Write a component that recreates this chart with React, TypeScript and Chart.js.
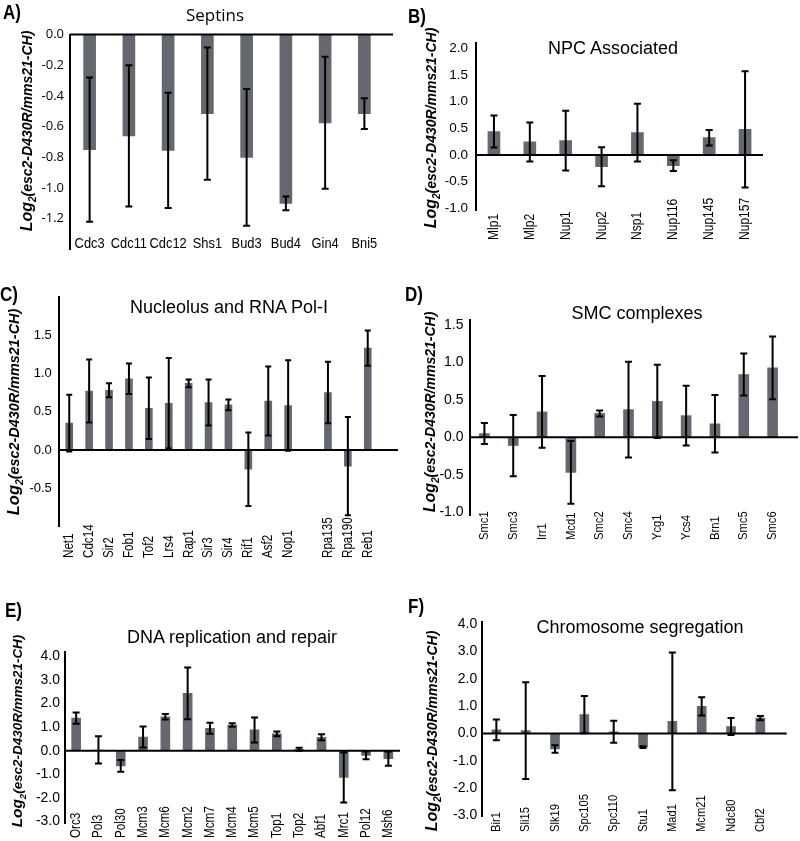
import React, { useEffect, useRef } from 'react';
import { Chart, registerables } from 'chart.js';
Chart.register(...registerables);

const ARIAL = "'Liberation Sans', Arial, sans-serif";
const OPEN = "'Open Sans', 'DejaVu Sans', sans-serif";
const BAR = '#65696f';
const CONDENSE = 0.83;

// A) Septins
const septinLabels = ['Cdc3', 'Cdc11', 'Cdc12', 'Shs1', 'Bud3', 'Bud4', 'Gin4', 'Bni5'];
const septinMeans = [-0.75, -0.66, -0.755, -0.515, -0.8, -1.1, -0.575, -0.515];
const septinErr = [0.47, 0.46, 0.375, 0.43, 0.445, 0.045, 0.43, 0.1];
const septinTicks = [0, -0.2, -0.4, -0.6, -0.8, -1.0, -1.2];

// B) NPC Associated
const npcLabels = ['Mlp1', 'Mlp2', 'Nup1', 'Nup2', 'Nsp1', 'Nup116', 'Nup145', 'Nup157'];
const npcMeans = [0.44, 0.245, 0.27, -0.22, 0.42, -0.2, 0.325, 0.48];
const npcErr = [0.3, 0.365, 0.56, 0.365, 0.54, 0.1, 0.145, 1.09];
const npcTicks = [2.0, 1.5, 1.0, 0.5, 0, -0.5, -1.0];

// C) Nucleolus and RNA Pol-I
const nucLabels = ['Net1', 'Cdc14', 'Sir2', 'Fob1', 'Tof2', 'Lrs4', 'Rap1', 'Sir3', 'Sir4', 'Rif1', 'Asf2', 'Nop1', '', 'Rpa135', 'Rpa190', 'Reb1'];
const nucMeans = [0.35, 0.77, 0.78, 0.93, 0.545, 0.61, 0.87, 0.62, 0.59, -0.25, 0.64, 0.58, null, 0.75, -0.21, 1.33];
const nucErr = [0.37, 0.41, 0.09, 0.2, 0.4, 0.59, 0.05, 0.3, 0.07, 0.48, 0.45, 0.59, null, 0.4, 0.64, 0.23];
const nucTicks = [1.5, 1.0, 0.5, 0, -0.5];

// D) SMC complexes
const smcLabels = ['Smc1', 'Smc3', 'Irr1', 'Mcd1', 'Smc2', 'Smc4', 'Ycg1', 'Ycs4', 'Brn1', 'Smc5', 'Smc6'];
const smcMeans = [0.05, -0.11, 0.34, -0.47, 0.32, 0.37, 0.48, 0.29, 0.18, 0.84, 0.93];
const smcErr = [0.14, 0.41, 0.48, 0.42, 0.04, 0.64, 0.49, 0.4, 0.385, 0.28, 0.42];
const smcTicks = [1.5, 1.0, 0.5, 0, -0.5, -1.0];

// E) DNA replication and repair
const dnaLabels = ['Orc3', 'Pol3', 'Pol30', 'Mcm3', 'Mcm6', 'Mcm2', 'Mcm7', 'Mcm4', 'Mcm5', 'Top1', 'Top2', 'Abf1', 'Mrc1', 'Pol12', 'Msh6'];
const dnaMeans = [1.38, 0.03, -0.65, 0.58, 1.44, 2.43, 0.95, 1.09, 0.88, 0.71, 0.06, 0.57, -1.14, -0.2, -0.34];
const dnaErr = [0.24, 0.58, 0.25, 0.45, 0.12, 1.1, 0.23, 0.07, 0.53, 0.1, 0.06, 0.13, 1.06, 0.16, 0.3];
const dnaTicks = [4, 3, 2, 1, 0, -1, -2, -3];

// F) Chromosome segregation
const chrLabels = ['Bir1', 'Sli15', 'Slk19', 'Spc105', 'Spc110', 'Stu1', 'Mad1', 'Mcm21', 'Ndc80', 'Cbf2'];
const chrMeans = [0.13, 0.1, -0.57, 0.69, 0.06, -0.5, 0.44, 0.99, 0.25, 0.56];
const chrErr = [0.38, 1.77, 0.14, 0.68, 0.4, 0.03, 2.52, 0.33, 0.31, 0.08];
const chrTicks = [4, 3, 2, 1, 0, -1, -2, -3];

type Panel = {
  key: string;
  letter: string; letterX: number; letterY: number;
  title: string; titleX: number; titleY: number; titleFont: string; titleSize: number;
  yTitleX: number; yTitleY: number; yTitleScale: number;
  cv: { x: number; y: number; w: number; h: number };
  area: { l: number; t: number; r: number; b: number };
  min: number; max: number; ticks: number[];
  tickFont: string; tickSize: number; tickPad: number;
  labels: string[]; means: (number | null)[]; errs: (number | null)[];
  barW: number; cap: number;
  vertical: boolean; labelY: number; labelSize: number;
  zeroRight: number;
};

const panels: Panel[] = [
  {
    key: 'A', letter: 'A)', letterX: 3, letterY: 5,
    title: 'Septins', titleX: 215, titleY: 15, titleFont: OPEN, titleSize: 17,
    yTitleX: 27, yTitleY: 131, yTitleScale: 1,
    cv: { x: 0, y: 0, w: 400, h: 280 },
    area: { l: 70, t: 34.5, r: 384, b: 249.5 },
    min: -1.4, max: 0, ticks: septinTicks,
    tickFont: OPEN, tickSize: 13, tickPad: 6,
    labels: septinLabels, means: septinMeans, errs: septinErr,
    barW: 12, cap: 3.5, vertical: false, labelY: 244, labelSize: 15.5,
    zeroRight: 393,
  },
  {
    key: 'B', letter: 'B)', letterX: 408, letterY: 9,
    title: 'NPC Associated', titleX: 613, titleY: 48, titleFont: ARIAL, titleSize: 18,
    yTitleX: 431, yTitleY: 128, yTitleScale: 1,
    cv: { x: 400, y: 0, w: 400, h: 280 },
    area: { l: 476, t: 43, r: 763, b: 210.7 },
    min: -1.045, max: 2.1, ticks: npcTicks,
    tickFont: ARIAL, tickSize: 13.5, tickPad: 8,
    labels: npcLabels, means: npcMeans, errs: npcErr,
    barW: 12, cap: 3.5, vertical: true, labelY: 240, labelSize: 14.5,
    zeroRight: 763,
  },
  {
    key: 'C', letter: 'C)', letterX: 0, letterY: 287,
    title: 'Nucleolus and RNA Pol-I', titleX: 229, titleY: 307, titleFont: ARIAL, titleSize: 18,
    yTitleX: 13, yTitleY: 412, yTitleScale: 1.03,
    cv: { x: 0, y: 280, w: 400, h: 290 },
    area: { l: 59.3, t: 296.7, r: 377.7, b: 526.7 },
    min: -1, max: 2, ticks: nucTicks,
    tickFont: ARIAL, tickSize: 13, tickPad: 7.5,
    labels: nucLabels, means: nucMeans, errs: nucErr,
    barW: 7, cap: 3, vertical: true, labelY: 558, labelSize: 14,
    zeroRight: 398,
  },
  {
    key: 'D', letter: 'D)', letterX: 405, letterY: 287,
    title: 'SMC complexes', titleX: 637, titleY: 313, titleFont: ARIAL, titleSize: 18,
    yTitleX: 430, yTitleY: 412, yTitleScale: 1,
    cv: { x: 400, y: 280, w: 400, h: 290 },
    area: { l: 470, t: 320, r: 787, b: 515 },
    min: -1.04, max: 1.57, ticks: smcTicks,
    tickFont: ARIAL, tickSize: 14, tickPad: 6.5,
    labels: smcLabels, means: smcMeans, errs: smcErr,
    barW: 10, cap: 3.5, vertical: true, labelY: 540, labelSize: 13.5,
    zeroRight: 798,
  },
  {
    key: 'E', letter: 'E)', letterX: 5, letterY: 603,
    title: 'DNA replication and repair', titleX: 232, titleY: 637, titleFont: ARIAL, titleSize: 18,
    yTitleX: 17, yTitleY: 731, yTitleScale: 0.96,
    cv: { x: 0, y: 570, w: 400, h: 271 },
    area: { l: 65, t: 651.7, r: 399.5, b: 823 },
    min: -3.07, max: 4.2, ticks: dnaTicks,
    tickFont: ARIAL, tickSize: 14, tickPad: 5,
    labels: dnaLabels, means: dnaMeans, errs: dnaErr,
    barW: 9, cap: 3.5, vertical: true, labelY: 838, labelSize: 14,
    zeroRight: 400,
  },
  {
    key: 'F', letter: 'F)', letterX: 408, letterY: 599,
    title: 'Chromosome segregation', titleX: 640, titleY: 627, titleFont: ARIAL, titleSize: 18,
    yTitleX: 432, yTitleY: 731, yTitleScale: 1,
    cv: { x: 400, y: 570, w: 400, h: 271 },
    area: { l: 481.7, t: 621.7, r: 775, b: 816.7 },
    min: -3.05, max: 4.09, ticks: chrTicks,
    tickFont: ARIAL, tickSize: 14, tickPad: 4.5,
    labels: chrLabels, means: chrMeans, errs: chrErr,
    barW: 9, cap: 3.5, vertical: true, labelY: 832, labelSize: 13.5,
    zeroRight: 786.7,
  },
];

function PanelChart({ p }: { p: Panel }) {
  const ref = useRef<HTMLCanvasElement | null>(null);
  useEffect(() => {
    if (!ref.current) return;
    const cv = p.cv;
    const deco = {
      id: 'deco' + p.key,
      afterDatasetsDraw(chart: any) {
        const ctx = chart.ctx;
        const xs = chart.scales.x;
        const ys = chart.scales.y;
        const ca = chart.chartArea;
        const y0 = ys.getPixelForValue(0);
        ctx.save();
        ctx.strokeStyle = '#000';
        ctx.lineWidth = 2;
        ctx.beginPath();
        ctx.moveTo(ca.left, y0);
        ctx.lineTo(p.zeroRight - cv.x, y0);
        ctx.stroke();
        p.means.forEach((m, i) => {
          const e = p.errs[i];
          if (m == null || e == null) return;
          const px = xs.getPixelForValue(i);
          const top = ys.getPixelForValue(m + e);
          const bot = ys.getPixelForValue(m - e);
          ctx.beginPath();
          ctx.moveTo(px, top); ctx.lineTo(px, bot);
          ctx.moveTo(px - p.cap, top); ctx.lineTo(px + p.cap, top);
          ctx.moveTo(px - p.cap, bot); ctx.lineTo(px + p.cap, bot);
          ctx.stroke();
        });
        ctx.fillStyle = '#000';
        ctx.font = `${p.labelSize}px ${ARIAL}`;
        const ly = p.labelY - cv.y;
        p.labels.forEach((lab, i) => {
          if (!lab) return;
          const px = xs.getPixelForValue(i);
          ctx.save();
          ctx.translate(px, ly);
          if (p.vertical) {
            ctx.rotate(-Math.PI / 2);
            ctx.textAlign = 'left';
          } else {
            ctx.textAlign = 'center';
          }
          ctx.scale(CONDENSE, 1);
          ctx.textBaseline = 'middle';
          ctx.fillText(lab, 0, 0);
          ctx.restore();
        });
        ctx.restore();
      },
    };
    const chart = new Chart(ref.current, {
      type: 'bar',
      data: {
        labels: p.labels,
        datasets: [{ data: p.means as any, backgroundColor: BAR, barThickness: p.barW, borderWidth: 0 }],
      },
      options: {
        animation: false,
        responsive: false,
        devicePixelRatio: 1,
        layout: {
          padding: {
            left: 0,
            top: p.area.t - cv.y,
            right: cv.x + cv.w - p.area.r,
            bottom: cv.y + cv.h - p.area.b,
          },
        },
        plugins: { legend: { display: false }, tooltip: { enabled: false }, title: { display: false } },
        scales: {
          x: { display: false, offset: true },
          y: {
            min: p.min,
            max: p.max,
            afterBuildTicks: (s: any) => { s.ticks = p.ticks.map((v) => ({ value: v })); },
            afterFit: (s: any) => { s.width = p.area.l - cv.x; },
            grid: { display: false, drawTicks: false },
            border: { display: true, color: '#000', width: 2 },
            ticks: {
              color: '#000',
              padding: p.tickPad,
              font: { family: p.tickFont, size: p.tickSize },
              callback: (v: any) => Number(v).toFixed(1),
            },
          },
        },
      },
      plugins: [deco],
    } as any);
    return () => chart.destroy();
  }, [p]);
  return (
    <canvas
      ref={ref}
      width={p.cv.w}
      height={p.cv.h}
      style={{ position: 'absolute', left: p.cv.x, top: p.cv.y, width: p.cv.w, height: p.cv.h }}
    />
  );
}

function YTitle({ p }: { p: Panel }) {
  const s = p.yTitleScale;
  return (
    <div
      style={{
        position: 'absolute', left: p.yTitleX - 160, top: p.yTitleY - 12, width: 320, height: 24,
        lineHeight: '24px', textAlign: 'center', transform: 'rotate(-90deg)', whiteSpace: 'nowrap',
        fontFamily: ARIAL, fontWeight: 'bold', fontStyle: 'italic', color: '#000',
      }}
    >
      <span style={{ fontSize: 16 * s }}>Log</span>
      <span style={{ fontSize: 10 * s, position: 'relative', top: 4 * s }}>2</span>
      <span style={{ fontSize: 14 * s }}>(esc2-D430R/mms21-CH)</span>
    </div>
  );
}

export default function App() {
  return (
    <div style={{ position: 'absolute', left: 0, top: 0, width: 800, height: 841, background: '#fff', overflow: 'hidden' }}>
      {panels.map((p) => (
        <React.Fragment key={p.key}>
          <PanelChart p={p} />
          <div
            style={{
              position: 'absolute', left: p.titleX - 200, top: p.titleY - 12, width: 400, height: 24,
              lineHeight: '24px', textAlign: 'center', fontFamily: p.titleFont, fontSize: p.titleSize, color: '#000',
              whiteSpace: 'nowrap',
            }}
          >
            {p.title}
          </div>
          <div
            style={{
              position: 'absolute', left: p.letterX, top: p.letterY - 3, lineHeight: '20px',
              fontFamily: ARIAL, fontWeight: 'bold', fontSize: 20, color: '#000', whiteSpace: 'nowrap',
              transform: 'scaleX(0.85)', transformOrigin: 'left center',
            }}
          >
            {p.letter}
          </div>
          <YTitle p={p} />
        </React.Fragment>
      ))}
    </div>
  );
}
